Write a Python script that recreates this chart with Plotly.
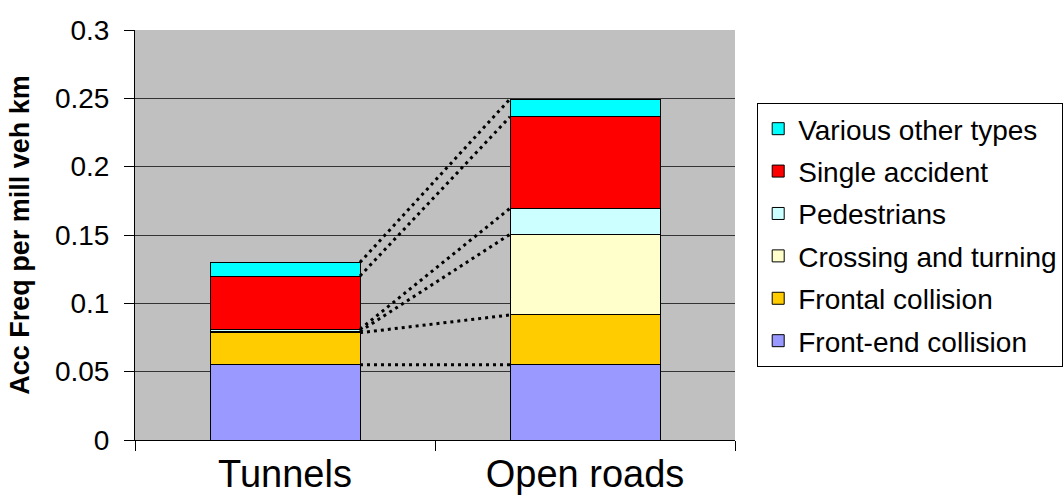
import plotly.graph_objects as go

categories = ["Tunnels", "Open roads"]
series_names = ["Front-end collision", "Frontal collision", "Crossing and turning",
                "Pedestrians", "Single accident", "Various other types"]
series_colors = ["#9999FF", "#FFCC00", "#FFFFCC", "#CCFFFF", "#FF0000", "#00FFFF"]
tunnels_vals = [0.055, 0.0235, 0.001, 0.0015, 0.039, 0.010]
open_roads_vals = [0.055, 0.0365, 0.059, 0.019, 0.067, 0.013]
y_ticks = [0, 0.05, 0.1, 0.15, 0.2, 0.25, 0.3]

FONT = "Liberation Sans, Arial, sans-serif"
x_pos = list(range(len(categories)))
bar_w = 0.5

fig = go.Figure()
n = len(series_names)
for i, (name, color) in enumerate(zip(series_names, series_colors)):
    fig.add_trace(go.Bar(
        x=x_pos, y=[tunnels_vals[i], open_roads_vals[i]], name=name,
        marker=dict(color=color, line=dict(color="#000000", width=1)),
        width=bar_w, legendgroup=name, legendrank=100 + (n - i),
    ))

# series lines connecting stack tops
cum_t, cum_o = 0.0, 0.0
for i in range(n):
    cum_t += tunnels_vals[i]
    cum_o += open_roads_vals[i]
    fig.add_trace(go.Scatter(
        x=[x_pos[0] + bar_w / 2, x_pos[1] - bar_w / 2], y=[cum_t, cum_o],
        mode="lines", line=dict(color="#000000", width=3, dash="3px,4px"),
        showlegend=False, hoverinfo="skip",
    ))

fig.update_layout(
    width=1064, height=500,
    barmode="stack",
    plot_bgcolor="#C0C0C0", paper_bgcolor="#FFFFFF",
    margin=dict(l=135, r=329, t=30, b=60, autoexpand=False),
    font=dict(family=FONT, color="#000000"),
    legend=dict(
        x=1.037, y=0.822, xanchor="left", yanchor="top",
        traceorder="grouped", tracegroupgap=3,
        bordercolor="#000000", borderwidth=1, bgcolor="#FFFFFF",
        font=dict(size=28, family=FONT, color="#000000"),
    ),
    xaxis=dict(
        range=[-0.5, 1.5], tickvals=x_pos, ticktext=categories,
        tickfont=dict(size=38, family=FONT), ticks="",
        showgrid=False, zeroline=False, automargin=False,
        showline=True, linecolor="#000000", linewidth=1,
        ticklabelstandoff=0,
        minor=dict(tickvals=[-0.5, 0.5, 1.5], ticks="outside", ticklen=10,
                   tickcolor="#000000", tickwidth=1, showgrid=False),
    ),
    yaxis=dict(
        range=[0, 0.3], tickvals=y_ticks, automargin=False,
        tickfont=dict(size=28, family=FONT),
        ticks="outside", ticklen=10, tickcolor="#000000",
        showline=True, linecolor="#000000", linewidth=1,
        showgrid=True, gridcolor="#333333", gridwidth=1, zeroline=False,
        ticklabelstandoff=9,
        title=dict(text="<b>Acc Freq per mill veh km</b>",
                   font=dict(size=27, family=FONT), standoff=17),
    ),
)

fig.write_html("out.html")
